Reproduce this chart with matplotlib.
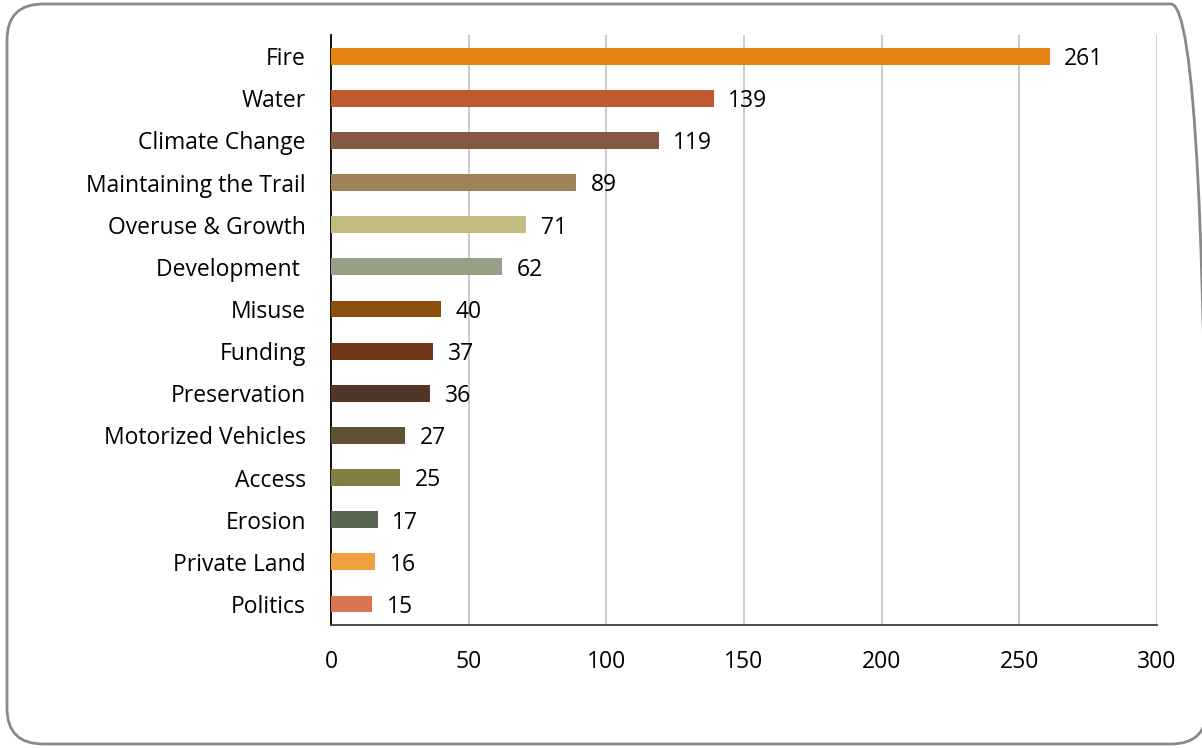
import matplotlib
matplotlib.use("Agg")
import matplotlib.pyplot as plt
from matplotlib.patches import FancyBboxPatch

categories = ["Fire", "Water", "Climate Change", "Maintaining the Trail", "Overuse & Growth",
              "Development ", "Misuse", "Funding", "Preservation", "Motorized Vehicles",
              "Access", "Erosion", "Private Land", "Politics"]
counts = [261, 139, 119, 89, 71, 62, 40, 37, 36, 27, 25, 17, 16, 15]
colors = ["#E58413", "#BE5A2E", "#875741", "#9B8257", "#C2BC80", "#95A086", "#8A4F0C",
          "#71361A", "#513527", "#5F5036", "#827D43", "#5B6650", "#F09F3E", "#D97650"]
xticks = [0, 50, 100, 150, 200, 250, 300]

plt.rcParams['font.family'] = ['Open Sans', 'DejaVu Sans']
fs = 16.5

fig = plt.figure(figsize=(12.02, 7.48), dpi=100)
frame = FancyBboxPatch((7/1202, 4/748), 1200/1202, 740/748,
                       boxstyle="round,pad=0,rounding_size=0.03",
                       transform=fig.transFigure, facecolor="none",
                       edgecolor="#898989", linewidth=2, mutation_aspect=1202/748,
                       zorder=-10)
fig.patches.append(frame)

ax = fig.add_axes([331/1202, 123/748, 826/1202, 590/748])
ax.set_facecolor("none")
ypos = list(range(len(categories)))
ax.barh(ypos, counts, height=0.4, color=colors, zorder=3)
for y, v in zip(ypos, counts):
    ax.text(v + 5.3, y + 0.07, str(v), va="center", ha="left", fontsize=fs, color="black")

ax.set_yticks(ypos)
ax.set_yticklabels(categories, fontsize=fs)
ax.set_ylim(len(categories) - 0.5, -0.5)
ax.set_xlim(0, 300)
ax.set_xticks(xticks)
ax.set_xticklabels([str(t) for t in xticks], fontsize=fs)
ax.tick_params(axis="both", length=0)
ax.tick_params(axis="x", pad=18)
ax.tick_params(axis="y", pad=18)
ax.xaxis.grid(True, color="#C8C8C8", linewidth=1.3, zorder=0)
ax.set_axisbelow(True)
for s in ["top", "right"]:
    ax.spines[s].set_visible(False)
ax.spines["left"].set_color("black")
ax.spines["left"].set_linewidth(1.3)
ax.spines["bottom"].set_color("#404040")
ax.spines["bottom"].set_linewidth(1.3)

fig.savefig("out.png", dpi=100)
